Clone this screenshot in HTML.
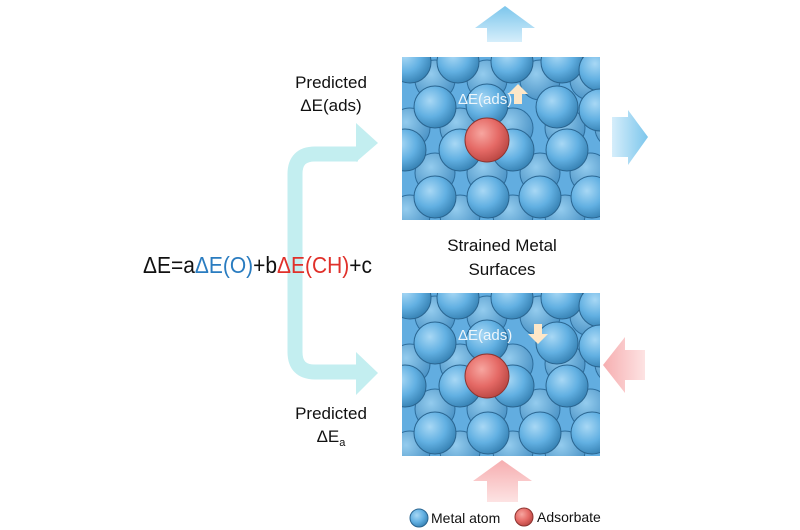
<!DOCTYPE html>
<html><head><meta charset="utf-8"><style>
html,body{margin:0;padding:0;background:#fff;}
svg{display:block}
text{font-family:"Comic Sans MS","Liberation Sans",sans-serif;}
</style></head><body>
<svg width="800" height="530" viewBox="0 0 800 530" xmlns="http://www.w3.org/2000/svg">
<defs>
<radialGradient id="sph" cx="0.38" cy="0.35" r="0.7">
<stop offset="0" stop-color="#a8d8f5"/><stop offset="0.55" stop-color="#62b0e2"/><stop offset="1" stop-color="#3580b2"/>
</radialGradient>
<radialGradient id="sphb" cx="0.4" cy="0.35" r="0.7">
<stop offset="0" stop-color="#94ccee"/><stop offset="1" stop-color="#4790c4"/>
</radialGradient>
<radialGradient id="red" cx="0.38" cy="0.35" r="0.7">
<stop offset="0" stop-color="#f7a6a0"/><stop offset="0.55" stop-color="#e56a66"/><stop offset="1" stop-color="#b84541"/>
</radialGradient>
<linearGradient id="upb" x1="0" y1="1" x2="0" y2="0"><stop offset="0" stop-color="#d6eefb"/><stop offset="1" stop-color="#7cc6ec"/></linearGradient>
<linearGradient id="rb" x1="0" y1="0" x2="1" y2="0"><stop offset="0" stop-color="#d6eefb"/><stop offset="1" stop-color="#7cc6ec"/></linearGradient>
<linearGradient id="lp" x1="1" y1="0" x2="0" y2="0"><stop offset="0" stop-color="#fde3e3"/><stop offset="1" stop-color="#f6aeb0"/></linearGradient>
<linearGradient id="up" x1="0" y1="1" x2="0" y2="0"><stop offset="0" stop-color="#fde3e3"/><stop offset="1" stop-color="#f6aeb0"/></linearGradient>
<clipPath id="cp"><rect x="402" y="57" width="198" height="163"/></clipPath>
<g id="panel">
<g clip-path="url(#cp)">
<rect x="402" y="57" width="198" height="163" fill="#62ade0"/>
<g fill="url(#sphb)" stroke="#2d6d9c" stroke-width="1">
<circle cx="435" cy="80" r="20"/><circle cx="487" cy="80" r="20"/><circle cx="540" cy="80" r="20"/><circle cx="590" cy="80" r="20"/>
<circle cx="410" cy="128" r="20"/><circle cx="460" cy="128" r="20"/><circle cx="513" cy="128" r="20"/><circle cx="565" cy="128" r="20"/><circle cx="615" cy="128" r="20"/>
<circle cx="435" cy="173" r="20"/><circle cx="487" cy="173" r="20"/><circle cx="540" cy="173" r="20"/><circle cx="590" cy="173" r="20"/>
<circle cx="410" cy="215" r="20"/><circle cx="460" cy="215" r="20"/><circle cx="513" cy="215" r="20"/><circle cx="565" cy="215" r="20"/>
</g>
<g fill="url(#sph)" stroke="#2a6590" stroke-width="1">
<circle cx="410" cy="62" r="21"/><circle cx="458" cy="62" r="21"/><circle cx="512" cy="62" r="21"/><circle cx="562" cy="62" r="21"/><circle cx="600" cy="70" r="21"/>
<circle cx="435" cy="107" r="21"/><circle cx="487" cy="105" r="21"/><circle cx="557" cy="107" r="21"/><circle cx="600" cy="110" r="21"/>
<circle cx="405" cy="150" r="21"/><circle cx="460" cy="150" r="21"/><circle cx="513" cy="150" r="21"/><circle cx="567" cy="150" r="21"/>
<circle cx="435" cy="197" r="21"/><circle cx="488" cy="197" r="21"/><circle cx="540" cy="197" r="21"/><circle cx="592" cy="197" r="21"/>
</g>
<circle cx="487" cy="140" r="22" fill="url(#red)" stroke="#8c3430" stroke-width="1"/>
</g>
</g>
</defs>
<use href="#panel"/>
<use href="#panel" transform="translate(0,236)"/>

<text x="458" y="104" font-size="15" fill="#eef6fb">ΔE(ads)</text>
<polygon points="518,84 528,94 522,94 522,104 514,104 514,94 508,94" fill="#fde7c8"/>
<text x="458" y="340" font-size="15" fill="#eef6fb">ΔE(ads)</text>
<polygon points="538,344 548,334 542,334 542,324 534,324 534,334 528,334" fill="#fde7c8"/>

<polygon points="487,42 487,28 475,28 505,6 535,28 522,28 522,42" fill="url(#upb)"/>
<polygon points="612,117 628,117 628,110 648,137 628,165 628,157 612,157" fill="url(#rb)"/>
<polygon points="645,350 625,350 625,337 603,365 625,393 625,380 645,380" fill="url(#lp)"/>
<polygon points="487,502 487,481 473,481 502,460 532,481 518,481 518,502" fill="url(#up)"/>

<path d="M358,154 H315 Q295,154 295,174 V352 Q295,372 315,372 H358" fill="none" stroke="#c3eef0" stroke-width="15"/>
<polygon points="356,123 378,143 356,162" fill="#c3eef0"/>
<polygon points="356,352 378,373 356,395" fill="#c3eef0"/>

<text x="331" y="88" font-size="17" text-anchor="middle" fill="#111">Predicted</text>
<text x="331" y="111" font-size="17" text-anchor="middle" fill="#111">ΔE(ads)</text>
<text x="331" y="419" font-size="17" text-anchor="middle" fill="#111">Predicted</text>
<text x="331" y="442" font-size="17" text-anchor="middle" fill="#111">ΔE<tspan font-size="11" dy="4">a</tspan></text>
<text x="143" y="273" font-size="23" fill="#111" textLength="229" lengthAdjust="spacingAndGlyphs">ΔE=a<tspan fill="#2a7cc0">ΔE(O)</tspan>+b<tspan fill="#e0302a">ΔE(CH)</tspan>+c</text>
<text x="502" y="251" font-size="17" text-anchor="middle" fill="#111">Strained Metal</text>
<text x="502" y="275" font-size="17" text-anchor="middle" fill="#111">Surfaces</text>

<circle cx="419" cy="518" r="9" fill="url(#sph)" stroke="#2a6590"/>
<text x="431" y="523" font-size="14" fill="#111">Metal atom</text>
<circle cx="524" cy="517" r="9" fill="url(#red)" stroke="#8c3430"/>
<text x="537" y="522" font-size="14" fill="#111">Adsorbate</text>
</svg>
</body></html>
